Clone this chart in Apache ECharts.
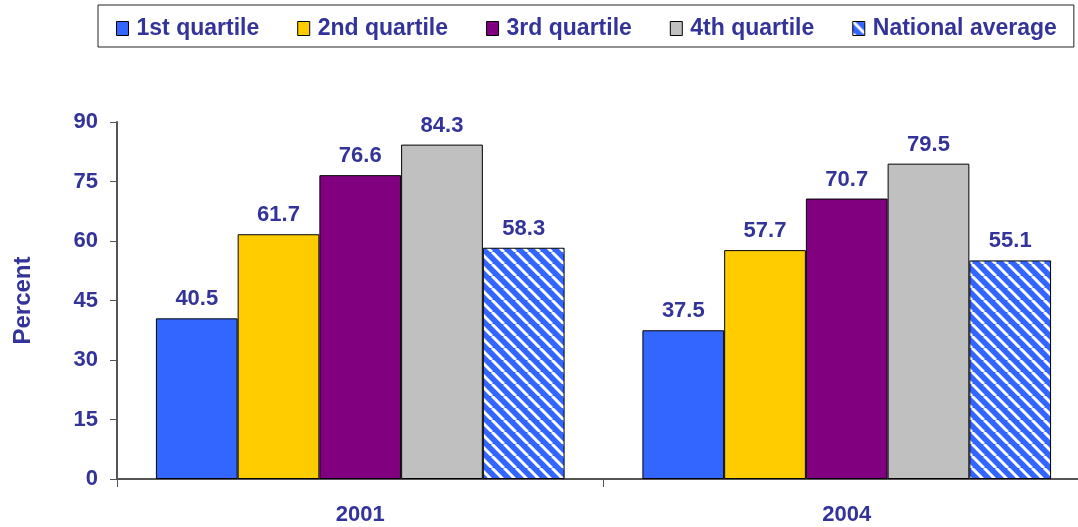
<!DOCTYPE html>
<html>
<head>
<meta charset="utf-8">
<script src="https://cdn.jsdelivr.net/npm/echarts@6/dist/echarts.min.js"></script>
<style>
  html, body { margin: 0; padding: 0; background: #fff; }
  #chart { width: 1078px; height: 527px; }
</style>
</head>
<body>
<div id="chart"></div>
<script>
const categories = ["2001", "2004"];
const seriesNames = ["1st quartile", "2nd quartile", "3rd quartile", "4th quartile", "National average"];
const q1 = [40.5, 37.5];
const q2 = [61.7, 57.7];
const q3 = [76.6, 70.7];
const q4 = [84.3, 79.5];
const national = [58.3, 55.1];
const yTicks = [0, 15, 30, 45, 60, 75, 90];

const textColor = "#333399";
const fontFamily = "Liberation Sans, Arial, sans-serif";

// blue with white diagonal stripes for the national average
function makeStripes() {
  const s = 12;
  const c = document.createElement("canvas");
  c.width = s;
  c.height = s;
  const ctx = c.getContext("2d");
  ctx.fillStyle = "#3366FF";
  ctx.fillRect(0, 0, s, s);
  ctx.strokeStyle = "#ffffff";
  ctx.lineWidth = 3;
  [-s, 0, s].forEach((x0) => {
    ctx.beginPath();
    ctx.moveTo(x0, 0);
    ctx.lineTo(x0 + s, s);
    ctx.stroke();
  });
  return c;
}

const colors = ["#3366FF", "#FFCC00", "#800080", "#C0C0C0", { image: makeStripes(), repeat: "repeat" }];
const values = [q1, q2, q3, q4, national];

const myChart = echarts.init(document.getElementById("chart"));

const series = seriesNames.map((name, i) => ({
  name: name,
  type: "bar",
  data: values[i],
  barGap: "0%",
  barCategoryGap: "16%",
  itemStyle: {
    color: colors[i],
    borderColor: "#000",
    borderWidth: 1,
  },
  label: {
    show: true,
    position: "top",
    distance: 8,
    formatter: (p) => p.value.toFixed(1),
    color: textColor,
    fontFamily: fontFamily,
    fontWeight: "bold",
    fontSize: 22,
  },
}));

const option = {
  backgroundColor: "#fff",
  animation: false,
  legend: {
    data: seriesNames,
    icon: "rect",
    left: 98,
    top: 5,
    padding: [12, 17, 7, 18],
    itemGap: 38,
    itemWidth: 12,
    itemHeight: 14,
    borderColor: "#222",
    borderWidth: 1,
    itemStyle: { borderColor: "#000", borderWidth: 1 },
    textStyle: {
      color: textColor,
      fontFamily: fontFamily,
      fontWeight: "bold",
      fontSize: 23,
      padding: [0, 0, 0, 3],
    },
  },
  grid: {
    left: 117,
    width: 973,
    top: 122,
    bottom: 48,
    outerBoundsMode: "none",
  },
  xAxis: {
    type: "category",
    data: categories,
    axisLine: { lineStyle: { color: "#555", width: 2 } },
    axisTick: { show: true, length: 8, lineStyle: { color: "#555" } },
    axisLabel: {
      margin: 25,
      color: textColor,
      fontFamily: fontFamily,
      fontWeight: "bold",
      fontSize: 22,
    },
  },
  yAxis: {
    type: "value",
    min: yTicks[0],
    max: yTicks[yTicks.length - 1],
    interval: 15,
    name: "Percent",
    nameLocation: "middle",
    nameGap: 82,
    nameTextStyle: {
      color: textColor,
      fontFamily: fontFamily,
      fontWeight: "bold",
      fontSize: 24,
    },
    axisLine: { show: true, lineStyle: { color: "#555", width: 2 } },
    axisTick: { show: true, length: 7, lineStyle: { color: "#555" } },
    splitLine: { show: false },
    axisLabel: {
      margin: 19,
      color: textColor,
      fontFamily: fontFamily,
      fontWeight: "bold",
      fontSize: 22,
    },
  },
  series: series,
};

myChart.setOption(option);
</script>
</body>
</html>
